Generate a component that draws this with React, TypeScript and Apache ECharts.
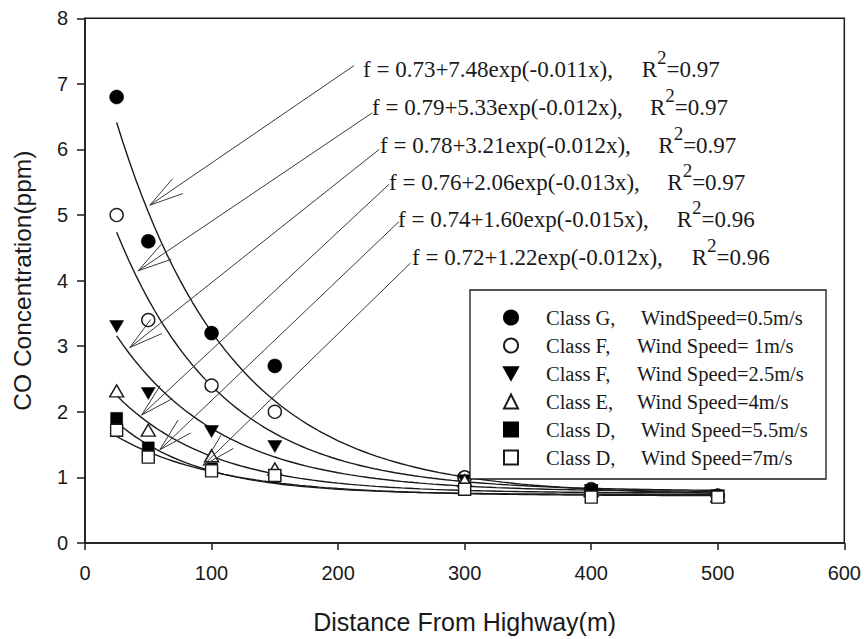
import React, { useEffect, useRef } from "react";
import * as echarts from "echarts";

// ---------- data ----------
const distances = [25, 50, 100, 150, 300, 400, 500];

const classLabels = ["Class G,", "Class F,", "Class F,", "Class E,", "Class D,", "Class D,"];
const windLabels = [
  "WindSpeed=0.5m/s",
  "Wind Speed= 1m/s",
  "Wind Speed=2.5m/s",
  "Wind Speed=4m/s",
  "Wind Speed=5.5m/s",
  "Wind Speed=7m/s",
];

const classG05 = [6.8, 4.6, 3.2, 2.7, 1.0, 0.82, 0.72];
const classF1 = [5.0, 3.4, 2.4, 2.0, 1.0, 0.8, 0.72];
const classF25 = [3.3, 2.28, 1.7, 1.47, 0.95, 0.8, 0.72];
const classE4 = [2.32, 1.72, 1.33, 1.13, 0.95, 0.8, 0.72];
const classD55 = [1.9, 1.45, 1.13, 1.02, 0.82, 0.78, 0.7];
const classD7 = [1.72, 1.31, 1.1, 1.03, 0.82, 0.7, 0.7];
const observed = [classG05, classF1, classF25, classE4, classD55, classD7];

// fitted model f = a + b*exp(-k*x), as printed on the chart
const fitA = [0.73, 0.79, 0.78, 0.76, 0.74, 0.72];
const fitB = [7.48, 5.33, 3.21, 2.06, 1.6, 1.22];
const fitK = ["0.011", "0.012", "0.012", "0.013", "0.015", "0.012"];
const fitR2 = ["0.97", "0.97", "0.97", "0.97", "0.96", "0.96"];
const fitRange = [25, 500];

// annotation arrows (data coordinates): from label to curve
const arrowFrom = [
  [212.7, 7.28],
  [227.1, 6.56],
  [232.4, 6.0],
  [240.3, 5.47],
  [248.1, 4.9],
  [257.3, 4.27],
];
const arrowTo = [
  [51.2, 5.15],
  [42.0, 4.15],
  [35.4, 2.98],
  [44.7, 1.95],
  [59.1, 1.42],
  [93.2, 1.18],
];

// ---------- styles / layout ----------
const INK = "#1a1a1a";
const eqX = [363, 372, 380, 389, 398, 412];
const eqY = [69, 107, 145, 182, 219.5, 257.5];
const r2X = [641.7, 650, 658.3, 667.3, 676.7, 691.7];
const col1Width = [95, 91, 91, 91, 95, 95];

const downTri = "path://M0,0 L10,0 L5,9 Z";
const markerStyles = [
  { symbol: "circle", symbolSize: 14, filled: true },
  { symbol: "circle", symbolSize: 13, filled: false },
  { symbol: downTri, symbolSize: [14, 12], filled: true },
  { symbol: "triangle", symbolSize: [14, 12], filled: false },
  { symbol: "rect", symbolSize: 12, filled: true },
  { symbol: "rect", symbolSize: 12, filled: false },
];

const seriesNames = classLabels.map((c, i) => c + " " + windLabels[i]);

export default function App() {
  const ref = useRef<HTMLDivElement>(null);

  useEffect(() => {
    if (!ref.current) return;
    const chart = echarts.init(ref.current, undefined, { renderer: "svg" });

    const curveSeries = fitA.map((a, i) => {
      const b = fitB[i];
      const k = parseFloat(fitK[i]);
      const pts: number[][] = [];
      for (let x = fitRange[0]; x <= fitRange[1]; x += 5) {
        pts.push([x, a + b * Math.exp(-k * x)]);
      }
      return {
        type: "line",
        name: "fit" + i,
        data: pts,
        showSymbol: false,
        symbol: "none",
        smooth: false,
        lineStyle: { color: INK, width: 1.4 },
        z: 2,
        silent: true,
      };
    });

    const scatterSeries = observed.map((vals, i) => {
      const m = markerStyles[i];
      return {
        type: "scatter",
        name: seriesNames[i],
        data: distances.map((d, j) => [d, vals[j]]),
        symbol: m.symbol,
        symbolSize: m.symbolSize,
        itemStyle: m.filled
          ? { color: "#000", borderColor: "#000", borderWidth: 0.5, opacity: 1 }
          : { color: "#fff", borderColor: INK, borderWidth: 1.4, opacity: 1 },
        z: 3 + i * 0.01,
      };
    });

    const arrowSeries = {
      type: "custom",
      name: "arrows",
      data: arrowFrom.map((f, i) => [f[0], f[1], arrowTo[i][0], arrowTo[i][1]]),
      encode: { x: [0, 2], y: [1, 3] },
      z: 4,
      silent: true,
      renderItem: (params: any, api: any) => {
        const s = api.coord([api.value(0), api.value(1)]);
        const t = api.coord([api.value(2), api.value(3)]);
        const ang = Math.atan2(s[1] - t[1], s[0] - t[0]);
        const L = 35;
        const h = 0.26;
        const b1 = [t[0] + L * Math.cos(ang + h), t[1] + L * Math.sin(ang + h)];
        const b2 = [t[0] + L * Math.cos(ang - h), t[1] + L * Math.sin(ang - h)];
        return {
          type: "group",
          children: [
            {
              type: "line",
              shape: { x1: s[0], y1: s[1], x2: t[0], y2: t[1] },
              style: { stroke: "#3a3a3a", lineWidth: 1 },
            },
            {
              type: "polyline",
              shape: { points: [b1, t, b2] },
              style: { stroke: "#3a3a3a", fill: "none", lineWidth: 1 },
            },
          ],
        };
      },
    };

    const graphics: any[] = [];
    fitA.forEach((a, i) => {
      graphics.push({
        type: "text",
        x: eqX[i],
        y: eqY[i],
        style: {
          text: `f = ${a.toFixed(2)}+${fitB[i].toFixed(2)}exp(-${fitK[i]}x),`,
          font: '23px "Liberation Serif"',
          fill: INK,
          verticalAlign: "middle",
          align: "left",
        },
        z: 10,
      });
      graphics.push({
        type: "text",
        x: r2X[i],
        y: eqY[i],
        style: {
          text: `{r|R}{s|2}{r|=${fitR2[i]}}`,
          verticalAlign: "middle",
          align: "left",
          rich: {
            r: { fontFamily: "Liberation Serif", fontSize: 23, fill: INK, color: INK },
            s: {
              fontFamily: "Liberation Serif",
              fontSize: 19,
              color: INK,
              fill: INK,
              padding: [0, 0, 24, 0],
            },
          },
        },
        z: 10,
      });
    });
    graphics.push({
      type: "rect",
      shape: { x: 470, y: 290, width: 356, height: 189 },
      style: { fill: "#fff", stroke: INK, lineWidth: 1.3 },
      z: 5,
    });

    const richLegend: any = {
      b: { fontFamily: "Liberation Serif", fontSize: 20.5, color: INK },
    };
    col1Width.forEach((w, i) => {
      richLegend["a" + i] = { fontFamily: "Liberation Serif", fontSize: 20.5, color: INK, width: w };
    });

    chart.setOption({
      animation: false,
      backgroundColor: "#fff",
      grid: {
        left: 85,
        right: 17.3,
        top: 18.3,
        bottom: 87.3,
        show: true,
        borderColor: INK,
        borderWidth: 1.5,
        backgroundColor: "transparent",
      },
      legend: {
        data: seriesNames,
        orient: "vertical",
        left: 503,
        top: 307,
        padding: 0,
        itemWidth: 14,
        itemHeight: 14,
        itemGap: 7,
        z: 6,
        selectedMode: false,
        textStyle: {
          fontFamily: "Liberation Serif",
          fontSize: 20.5,
          lineHeight: 20,
          color: INK,
          padding: [0, 0, 0, 23],
          rich: richLegend,
        },
        formatter: (name: string) => {
          const i = seriesNames.indexOf(name);
          return `{a${i}|${classLabels[i]}}{b|${windLabels[i]}}`;
        },
      },
      xAxis: {
        type: "value",
        min: 0,
        max: 600,
        interval: 100,
        name: "Distance From Highway(m)",
        nameLocation: "middle",
        nameGap: 66,
        nameTextStyle: { fontFamily: "Liberation Sans", fontSize: 25, color: INK },
        axisLine: { show: true, onZero: false, lineStyle: { color: INK, width: 1.5 } },
        axisTick: { show: true, inside: false, length: 7, lineStyle: { color: INK, width: 1.5 } },
        axisLabel: { fontFamily: "Liberation Sans", fontSize: 20, color: INK, margin: 20 },
        splitLine: { show: false },
      },
      yAxis: {
        type: "value",
        min: 0,
        max: 8,
        interval: 1,
        name: "CO Concentration(ppm)",
        nameLocation: "middle",
        nameGap: 50,
        nameTextStyle: { fontFamily: "Liberation Sans", fontSize: 24.5, color: INK },
        axisLine: { show: true, onZero: false, lineStyle: { color: INK, width: 1.5 } },
        axisTick: { show: true, inside: false, length: 8, lineStyle: { color: INK, width: 1.5 } },
        axisLabel: { fontFamily: "Liberation Sans", fontSize: 20, color: INK, margin: 17 },
        splitLine: { show: false },
      },
      graphic: graphics,
      series: [...curveSeries, arrowSeries, ...scatterSeries],
    });

    return () => chart.dispose();
  }, []);

  return (
    <div
      ref={ref}
      style={{ position: "absolute", left: 0, top: 0, width: 864, height: 639 }}
    />
  );
}
